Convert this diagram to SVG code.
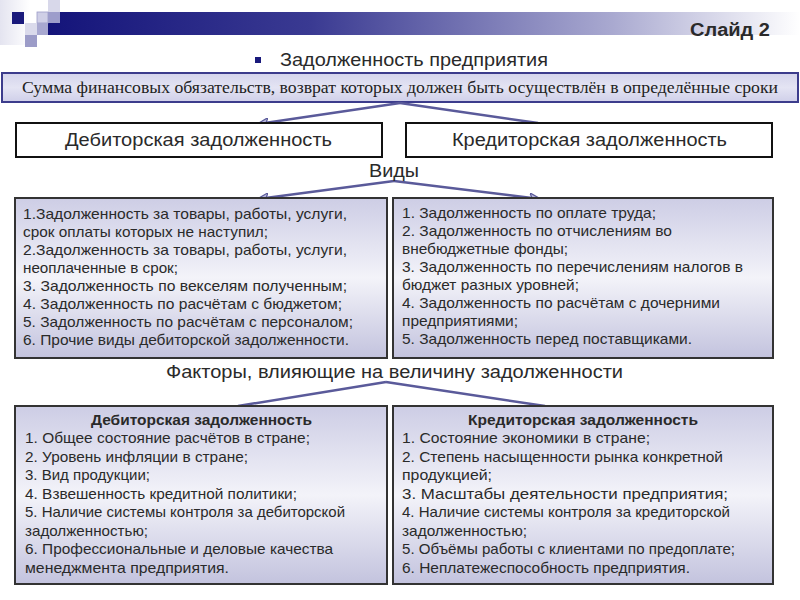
<svg xmlns="http://www.w3.org/2000/svg" width="800" height="600" viewBox="0 0 800 600">
<defs>
<linearGradient id="bar" x1="0" y1="0" x2="1" y2="0">
<stop offset="0" stop-color="#14147a"/>
<stop offset="0.35" stop-color="#3a3a92"/>
<stop offset="0.75" stop-color="#a9a9d0"/>
<stop offset="1" stop-color="#ffffff"/>
</linearGradient>
<linearGradient id="boxg" x1="0" y1="0" x2="0" y2="1">
<stop offset="0" stop-color="#cdcde5"/>
<stop offset="0.5" stop-color="#f3f3f9"/>
<stop offset="1" stop-color="#c3c3de"/>
</linearGradient>
<linearGradient id="defg" x1="0" y1="0" x2="0" y2="1">
<stop offset="0" stop-color="#d4d4ec"/>
<stop offset="0.5" stop-color="#e4e4f3"/>
<stop offset="1" stop-color="#cfcfe9"/>
</linearGradient>
<linearGradient id="sidefade" x1="0" y1="0" x2="1" y2="0">
<stop offset="0" stop-color="#e4e4f0"/>
<stop offset="1" stop-color="#ffffff"/>
</linearGradient>
<marker id="arr" viewBox="0 0 12 10" refX="11" refY="5" markerWidth="12" markerHeight="10" markerUnits="userSpaceOnUse" orient="auto">
<path d="M0,0 L12,5 L0,10 L3,5 Z" fill="#b8b8dc" stroke="#5a5a9a" stroke-width="1.2"/>
</marker>
</defs>
<style>
.t{font-family:"Liberation Sans",Arial,sans-serif;fill:#2a2a2a}
.big{font-size:17.5px}
.item{font-size:14.5px}
.hd{font-size:14.5px;font-weight:bold}
.box{fill:url(#boxg);stroke:#333;stroke-width:2}
.wbox{fill:#fff;stroke:#111;stroke-width:2}
.con{stroke:#5a5a9a;stroke-width:2.5;fill:none}
</style>

<g id="header">
<rect x="0" y="0" width="30" height="45" fill="url(#sidefade)"/>
<rect x="48" y="12" width="752" height="23" fill="url(#bar)"/>
<rect x="12" y="12" width="12" height="12" fill="#1a1a7c"/>
<rect x="48" y="0" width="12" height="12" fill="#d8d8ea"/>
<rect x="37" y="12" width="11" height="11" fill="#cfcfe6" stroke="#9c9cc8" stroke-width="0.8"/>
<rect x="48" y="12" width="12" height="11" fill="#9d9dcb"/>
<rect x="25" y="23" width="12" height="12" fill="#dadaeb"/>
<rect x="37" y="23" width="11" height="12" fill="#a8a8d0"/>
<rect x="25" y="35" width="12" height="12" fill="#9c9cc8"/>
<text class="t" x="690" y="36" textLength="80" lengthAdjust="spacingAndGlyphs" font-size="17.5" font-weight="bold" fill="#222">Слайд 2</text>
<rect x="255" y="57" width="6" height="6" fill="#1a1a7c"/>
<text class="t big" x="280" y="66" textLength="268" lengthAdjust="spacingAndGlyphs">Задолженность предприятия</text>
</g>

<g id="definition">
<rect x="2" y="73" width="796" height="29" fill="url(#defg)" stroke="#3c3c8c" stroke-width="2"/>
<text x="22" y="93" textLength="756" lengthAdjust="spacingAndGlyphs" font-family="Liberation Serif,'Times New Roman',serif" font-size="16" fill="#222">Сумма финансовых обязательств, возврат которых должен быть осуществлён в определённые сроки</text>
</g>

<g id="connectors">
<line class="con" x1="400" y1="103" x2="258" y2="124" marker-end="url(#arr)"/>
<line class="con" x1="400" y1="103" x2="538" y2="123"/>
<line class="con" x1="394" y1="181" x2="258" y2="199" marker-end="url(#arr)"/>
<line class="con" x1="394" y1="181" x2="540" y2="199" marker-end="url(#arr)"/>
<line class="con" x1="386" y1="382" x2="238" y2="406"/>
<line class="con" x1="386" y1="382" x2="545" y2="406"/>
</g>

<g id="debit">
<rect class="wbox" x="16" y="123" width="366" height="34"/>
<text class="t big" x="65" y="146" textLength="267" lengthAdjust="spacingAndGlyphs">Дебиторская задолженность</text>
</g>
<g id="credit">
<rect class="wbox" x="406" y="123" width="366" height="34"/>
<text class="t big" x="452" y="146" textLength="275" lengthAdjust="spacingAndGlyphs">Кредиторская задолженность</text>
</g>

<g id="vidy">
<text class="t big" x="369" y="177" textLength="50" lengthAdjust="spacingAndGlyphs">Виды</text>
</g>

<g id="debit-types">
<rect class="box" x="15" y="198" width="372" height="160"/>
<text class="t item" x="23" y="219" textLength="324" lengthAdjust="spacingAndGlyphs">1.Задолженность за товары, работы, услуги,</text>
<text class="t item" x="23" y="237" textLength="245" lengthAdjust="spacingAndGlyphs">срок оплаты которых не наступил;</text>
<text class="t item" x="23" y="255" textLength="324" lengthAdjust="spacingAndGlyphs">2.Задолженность за товары, работы, услуги,</text>
<text class="t item" x="23" y="273" textLength="155" lengthAdjust="spacingAndGlyphs">неоплаченные в срок;</text>
<text class="t item" x="23" y="291" textLength="324" lengthAdjust="spacingAndGlyphs">3. Задолженность по векселям полученным;</text>
<text class="t item" x="23" y="309" textLength="319" lengthAdjust="spacingAndGlyphs">4. Задолженность по расчётам с бюджетом;</text>
<text class="t item" x="23" y="327" textLength="330" lengthAdjust="spacingAndGlyphs">5. Задолженность по расчётам с персоналом;</text>
<text class="t item" x="23" y="345" textLength="326" lengthAdjust="spacingAndGlyphs">6. Прочие виды дебиторской задолженности.</text>
</g>

<g id="credit-types">
<rect class="box" x="393" y="198" width="380" height="160"/>
<text class="t item" x="402" y="218" textLength="254" lengthAdjust="spacingAndGlyphs">1. Задолженность по оплате труда;</text>
<text class="t item" x="402" y="236" textLength="270" lengthAdjust="spacingAndGlyphs">2. Задолженность по отчислениям во</text>
<text class="t item" x="402" y="254" textLength="166" lengthAdjust="spacingAndGlyphs">внебюджетные фонды;</text>
<text class="t item" x="402" y="272" textLength="341" lengthAdjust="spacingAndGlyphs">3. Задолженность по перечислениям налогов в</text>
<text class="t item" x="402" y="290" textLength="177" lengthAdjust="spacingAndGlyphs">бюджет разных уровней;</text>
<text class="t item" x="402" y="308" textLength="318" lengthAdjust="spacingAndGlyphs">4. Задолженность по расчётам с дочерними</text>
<text class="t item" x="402" y="326" textLength="116" lengthAdjust="spacingAndGlyphs">предприятиями;</text>
<text class="t item" x="402" y="344" textLength="290" lengthAdjust="spacingAndGlyphs">5. Задолженность перед поставщиками.</text>
</g>

<g id="factors">
<text class="t big" x="166" y="378" textLength="457" lengthAdjust="spacingAndGlyphs">Факторы, влияющие на величину задолженности</text>
</g>

<g id="debit-factors">
<rect class="box" x="15" y="406" width="372" height="178"/>
<text class="t hd" x="91" y="425" textLength="221" lengthAdjust="spacingAndGlyphs">Дебиторская задолженность</text>
<text class="t item" x="25" y="443" textLength="285" lengthAdjust="spacingAndGlyphs">1. Общее состояние расчётов в стране;</text>
<text class="t item" x="25" y="461.5" textLength="223" lengthAdjust="spacingAndGlyphs">2. Уровень инфляции в стране;</text>
<text class="t item" x="25" y="480" textLength="125" lengthAdjust="spacingAndGlyphs">3. Вид продукции;</text>
<text class="t item" x="25" y="498.5" textLength="272" lengthAdjust="spacingAndGlyphs">4. Взвешенность кредитной политики;</text>
<text class="t item" x="25" y="517" textLength="320" lengthAdjust="spacingAndGlyphs">5. Наличие системы контроля за дебиторской</text>
<text class="t item" x="25" y="535.5" textLength="123" lengthAdjust="spacingAndGlyphs">задолженностью;</text>
<text class="t item" x="25" y="554" textLength="308" lengthAdjust="spacingAndGlyphs">6. Профессиональные и деловые качества</text>
<text class="t item" x="25" y="572.5" textLength="204" lengthAdjust="spacingAndGlyphs">менеджмента предприятия.</text>
</g>

<g id="credit-factors">
<rect class="box" x="393" y="406" width="380" height="178"/>
<text class="t hd" x="468" y="425" textLength="230" lengthAdjust="spacingAndGlyphs">Кредиторская задолженность</text>
<text class="t item" x="402" y="443" textLength="248" lengthAdjust="spacingAndGlyphs">1. Состояние экономики в стране;</text>
<text class="t item" x="402" y="461.5" textLength="321" lengthAdjust="spacingAndGlyphs">2. Степень насыщенности рынка конкретной</text>
<text class="t item" x="402" y="480" textLength="90" lengthAdjust="spacingAndGlyphs">продукцией;</text>
<text class="t item" x="402" y="498.5" textLength="326" lengthAdjust="spacingAndGlyphs">3. Масштабы деятельности предприятия;</text>
<text class="t item" x="402" y="517" textLength="328" lengthAdjust="spacingAndGlyphs">4. Наличие системы контроля за кредиторской</text>
<text class="t item" x="402" y="535.5" textLength="125" lengthAdjust="spacingAndGlyphs">задолженностью;</text>
<text class="t item" x="402" y="554" textLength="333" lengthAdjust="spacingAndGlyphs">5. Объёмы работы с клиентами по предоплате;</text>
<text class="t item" x="402" y="572.5" textLength="288" lengthAdjust="spacingAndGlyphs">6. Неплатежеспособность предприятия.</text>
</g>
</svg>
